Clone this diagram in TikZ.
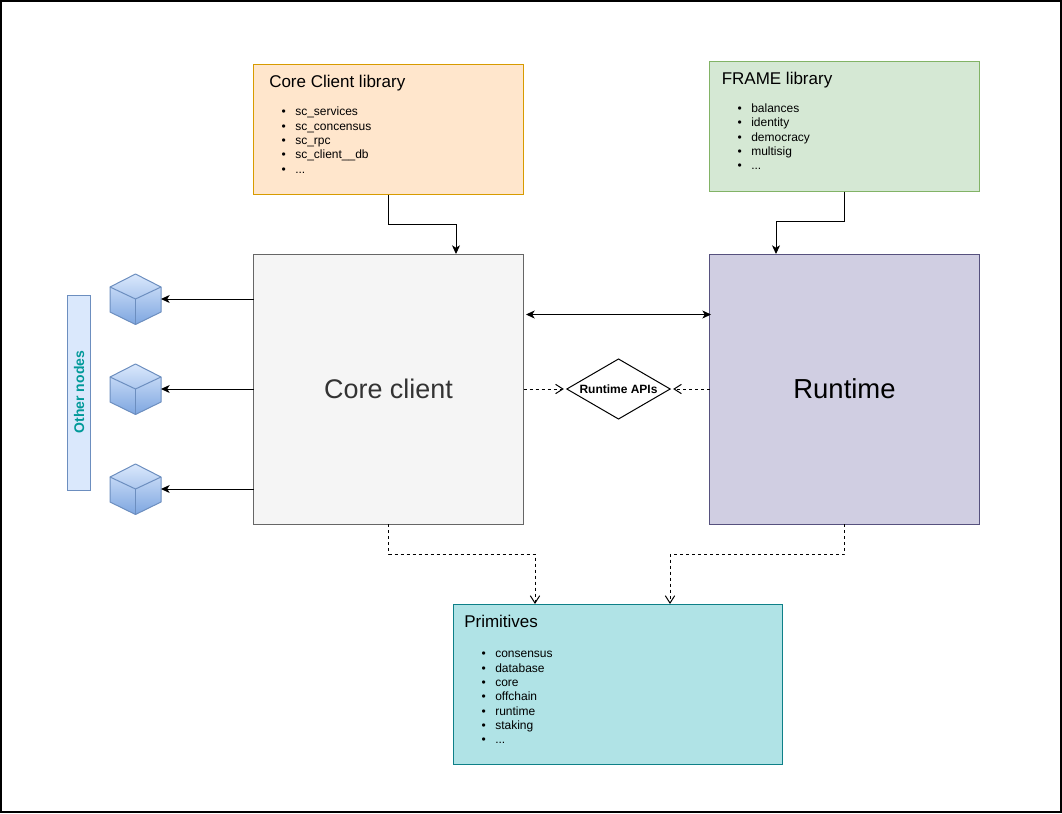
\documentclass[tikz,border=0pt]{standalone}
\usepackage{fontspec}
\setmainfont{Liberation Sans}
\usetikzlibrary{arrows.meta,shapes.geometric,calc}

\definecolor{libfill}{HTML}{FFE6CC}
\definecolor{libline}{HTML}{D79B00}
\definecolor{framefill}{HTML}{D5E8D4}
\definecolor{frameline}{HTML}{82B366}
\definecolor{corefill}{HTML}{F5F5F5}
\definecolor{coreline}{HTML}{666666}
\definecolor{runfill}{HTML}{D0CEE2}
\definecolor{runline}{HTML}{56517E}
\definecolor{primfill}{HTML}{B0E3E6}
\definecolor{primline}{HTML}{0E8088}
\definecolor{bluefill}{HTML}{DAE8FC}
\definecolor{blueline}{HTML}{6C8EBF}
\definecolor{bluedark}{HTML}{7EA6E0}
\definecolor{tealtext}{HTML}{009999}

\newcommand{\bulletline}[1]{\makebox[10.5pt][l]{\hspace{0.3pt}\textbullet}#1}

\tikzset{
	block/.style={draw, line width=0.75pt, anchor=north west, inner sep=0pt, outer sep=0pt},
	boxtitle/.style={anchor=west, inner sep=0pt, font=\fontsize{12.75}{15}\selectfont},
	boxlist/.style={anchor=north west, inner sep=0pt, align=left, font=\fontsize{9}{10.75}\selectfont},
	link/.style={line width=0.75pt, -{Stealth[length=6.5pt, width=6pt, inset=1.8pt]}},
	linkboth/.style={line width=0.75pt, {Stealth[length=6.5pt, width=6pt, inset=1.8pt]}-{Stealth[length=6.5pt, width=6pt, inset=1.8pt]}},
	uses/.style={line width=0.75pt, dash pattern=on 2.25pt off 2.25pt, -{Straight Barb[length=5.5pt, width=7pt]}},
	cubenode/.style={minimum width=38.25pt, minimum height=37.5pt, inner sep=0pt, outer sep=0pt},
}

\begin{document}
\begin{tikzpicture}[x=0.75pt, y=-0.75pt]
	\useasboundingbox (0,0) rectangle (1062,813);
	%outer frame
	\draw[line width=1.1pt] (1,1) rectangle (1061,812);

	%library boxes
	\node[block, fill=libfill, draw=libline, minimum width=202.5pt, minimum height=97.5pt] (corelib) at (253.5,64.5) {};
	\node[boxtitle] (corelibtitle) at (269,83.5) {Core Client library};
	\node[boxlist] (corelibitems) at (281,107) {\bulletline{sc\_services}\\\bulletline{sc\_concensus}\\\bulletline{sc\_rpc}\\\bulletline{sc\_client\_\_db}\\\bulletline{...}};

	\node[block, fill=framefill, draw=frameline, minimum width=202.5pt, minimum height=97.5pt] (framelib) at (709.5,61.5) {};
	\node[boxtitle] (framelibtitle) at (721.5,80.5) {FRAME library};
	\node[boxlist] (framelibitems) at (737,103.5) {\bulletline{balances}\\\bulletline{identity}\\\bulletline{democracy}\\\bulletline{multisig}\\\bulletline{...}};

	%main blocks
	\node[block, fill=corefill, draw=coreline, text=black!80, font=\fontsize{20.2}{24}\selectfont, minimum width=202.5pt, minimum height=202.5pt] (coreclient) at (253.5,254) {Core client};
	\node[block, fill=runfill, draw=runline, font=\fontsize{20.6}{24}\selectfont, minimum width=202.5pt, minimum height=202.5pt] (runtime) at (709.5,254) {Runtime};

	%primitives
	\node[block, fill=primfill, draw=primline, minimum width=246.75pt, minimum height=120pt] (primitives) at (453,604) {};
	\node[boxtitle] (primtitle) at (464,621.5) {Primitives};
	\node[boxlist] (primitems) at (481,651) {\bulletline{consensus}\\\bulletline{database}\\\bulletline{core}\\\bulletline{offchain}\\\bulletline{runtime}\\\bulletline{staking}\\\bulletline{...}};

	%runtime api diamond
	\node[diamond, draw, line width=0.75pt, fill=white, aspect=1.72, inner sep=0pt, outer sep=0pt, minimum width=77.5pt, minimum height=45pt, font=\bfseries\fontsize{9}{10}\selectfont] (apis) at (618.5,389) {Runtime APIs};

	%other nodes
	\node[block, fill=bluefill, draw=blueline, minimum width=17.25pt, minimum height=146.25pt] (othernodes) at (67.5,295) {};
	\node[rotate=90, inner sep=0pt, text=tealtext, font=\bfseries\fontsize{10.5}{12}\selectfont] (otherlabel) at (79,392) {Other nodes};

	%cubes with arrows from the core client
	\foreach \name/\ypos in {cubea/299, cubeb/389, cubec/489} {
		\node[cubenode] (\name) at (135.5,\ypos) {};
		\draw[draw=blueline, line width=0.75pt, top color=bluefill, bottom color=bluedark, line join=round]
			($(\name.center)+(0,-25)$) -- ++(25.5,13) -- ++(0,25) -- ++(-25.5,12.5) -- ++(-25.5,-12.5) -- ++(0,-25) -- cycle;
		\draw[draw=blueline, line width=0.75pt] ($(\name.center)+(-25.5,-12)$) -- (\name.center) -- ($(\name.center)+(25.5,-12)$);
		\draw[blueline, line width=0.75pt] (\name.center) -- ++(0,25);
		\draw[link] (coreclient.west |- \name.center) -- (\name.east);
	}

	%library connectors
	\draw[link] (corelib.south) -- ++(0,30) -| ([shift={(67.5,0)}]coreclient.north);
	\draw[link] (framelib.south) -- ++(0,30) -| ([shift={(-68.5,0)}]runtime.north);

	%core and runtime
	\draw[linkboth] ([shift={(2.5,-74.5)}]coreclient.east) -- ([shift={(1.5,-74.5)}]runtime.west);
	\draw[uses] (coreclient.east) -- ([shift={(-3,0)}]apis.west);
	\draw[uses] (runtime.west) -- ([shift={(3,0)}]apis.east);

	%dependency on primitives
	\draw[uses] (coreclient.south) -- ++(0,30) -| ([shift={(-82.5,0)}]primitives.north);
	\draw[uses] (runtime.south) -- ++(0,30) -| ([shift={(52.5,0)}]primitives.north);
\end{tikzpicture}
\end{document}
